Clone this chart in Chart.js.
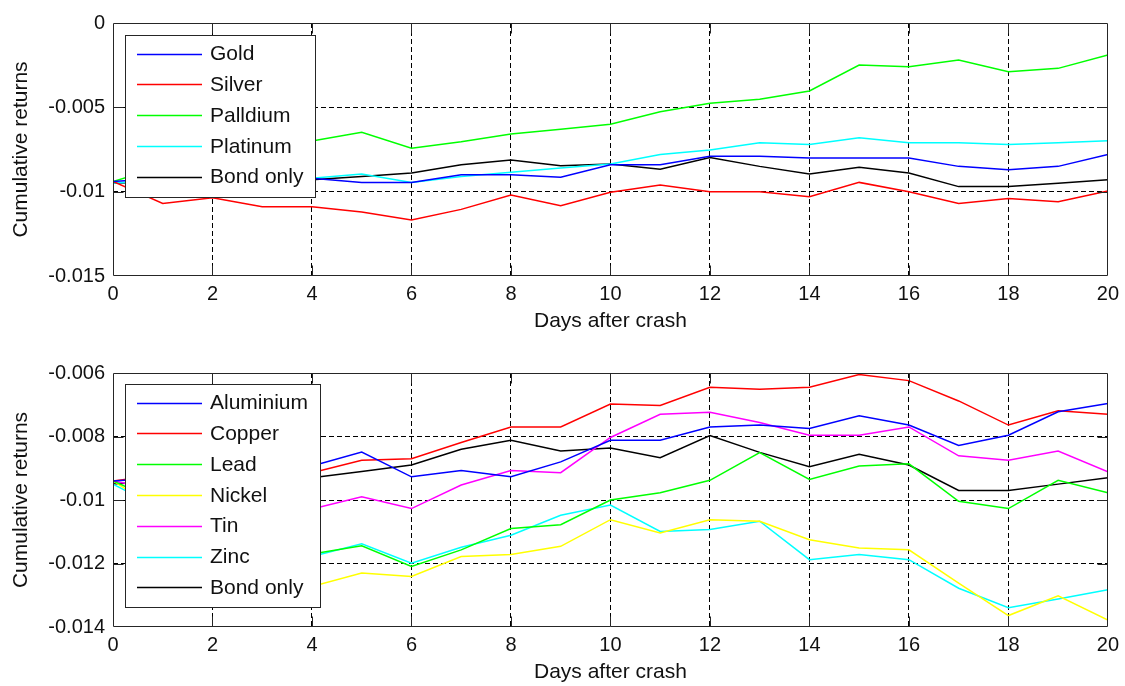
<!DOCTYPE html>
<html>
<head>
<meta charset="utf-8">
<script src="https://cdn.jsdelivr.net/npm/chart.js@4.4.1/dist/chart.umd.min.js"></script>
<style>
  html, body { margin: 0; padding: 0; background: #fff; }
  #wrap { position: relative; width: 1125px; height: 686px; }
  canvas { position: absolute; left: 0; }
</style>
</head>
<body>
<div id="wrap">
  <canvas id="precious" width="1125" height="343" style="top:0"></canvas>
  <canvas id="base" width="1125" height="343" style="top:343px"></canvas>
</div>
<script>
// Days after the crash (x axis)
const days = [0, 1, 2, 3, 4, 5, 6, 7, 8, 9, 10, 11, 12, 13, 14, 15, 16, 17, 18, 19, 20];
const xTickValues = [0, 2, 4, 6, 8, 10, 12, 14, 16, 18, 20];
const xTickLabels = ['0', '2', '4', '6', '8', '10', '12', '14', '16', '18', '20'];

// Precious metals: cumulative returns
const gold      = [-0.0094, -0.0092, -0.0093, -0.0092, -0.0092, -0.00945, -0.00945, -0.0090, -0.0090, -0.00915, -0.0084, -0.0084, -0.0079, -0.0079, -0.0080, -0.0080, -0.0080, -0.0085, -0.0087, -0.0085, -0.0078];
const silver    = [-0.0094, -0.0107, -0.01036, -0.0109, -0.0109, -0.0112, -0.01168, -0.01105, -0.0102, -0.01083, -0.01004, -0.0096, -0.0100, -0.0100, -0.0103, -0.00945, -0.0100, -0.0107, -0.0104, -0.0106, -0.00996];
const palladium = [-0.0094, -0.0085, -0.0079, -0.0074, -0.0070, -0.00648, -0.00743, -0.00704, -0.00658, -0.0063, -0.0060, -0.00526, -0.00476, -0.00452, -0.00403, -0.00249, -0.00259, -0.00219, -0.00289, -0.00269, -0.0019];
const platinum  = [-0.0095, -0.0093, -0.0093, -0.0092, -0.0092, -0.00895, -0.00945, -0.0091, -0.00885, -0.0086, -0.00836, -0.00779, -0.00753, -0.0071, -0.0072, -0.0068, -0.0071, -0.0071, -0.0072, -0.0071, -0.00698];

// Benchmark shared by both panels
const bondOnly  = [-0.0095, -0.0094, -0.0093, -0.0093, -0.0093, -0.0091, -0.0089, -0.0084, -0.00812, -0.00846, -0.00836, -0.00867, -0.00797, -0.0085, -0.00895, -0.00856, -0.0089, -0.0097, -0.0097, -0.0095, -0.0093];

// Base metals: cumulative returns
const aluminium = [-0.0094, -0.0093, -0.0092, -0.0091, -0.00893, -0.00849, -0.00927, -0.00907, -0.00927, -0.0088, -0.00812, -0.00812, -0.0077, -0.00764, -0.00775, -0.00735, -0.00764, -0.00828, -0.00796, -0.00722, -0.00696];
const copper    = [-0.0094, -0.0092, -0.0093, -0.0092, -0.00914, -0.00875, -0.0087, -0.00819, -0.0077, -0.0077, -0.00698, -0.00702, -0.00645, -0.00651, -0.00645, -0.00605, -0.00624, -0.00688, -0.00764, -0.00719, -0.0073];
const lead      = [-0.0094, -0.0101, -0.0107, -0.0112, -0.0117, -0.01144, -0.01209, -0.01157, -0.0109, -0.01078, -0.0100, -0.00977, -0.00938, -0.00851, -0.00935, -0.00893, -0.00886, -0.01004, -0.01027, -0.00938, -0.00977];
const nickel    = [-0.0094, -0.0104, -0.0112, -0.0121, -0.01272, -0.0123, -0.01241, -0.01178, -0.01172, -0.01146, -0.01062, -0.01104, -0.01062, -0.01067, -0.01125, -0.01151, -0.01157, -0.01262, -0.01364, -0.01302, -0.01378];
const tin       = [-0.0094, -0.0097, -0.0099, -0.0101, -0.01028, -0.0099, -0.01027, -0.00953, -0.00907, -0.00914, -0.00803, -0.0073, -0.00724, -0.00756, -0.00796, -0.00796, -0.0077, -0.00861, -0.00875, -0.00846, -0.00911];
const zinc      = [-0.0095, -0.0103, -0.0109, -0.0114, -0.01178, -0.01138, -0.01199, -0.01149, -0.01111, -0.01048, -0.01016, -0.01099, -0.01093, -0.01067, -0.01188, -0.01172, -0.01188, -0.01278, -0.01339, -0.01312, -0.01283];

// Y axis ticks for each panel
const preciousYTicks  = [-0.015, -0.01, -0.005, 0];
const preciousYLabels = ['-0.015', '-0.01', '-0.005', '0'];
const baseYTicks      = [-0.014, -0.012, -0.01, -0.008, -0.006];
const baseYLabels     = ['-0.014', '-0.012', '-0.01', '-0.008', '-0.006'];

const FONT = "'Liberation Sans', Arial, Helvetica, sans-serif";
const TEXT = '#111';

// Solid box around the plot area with short inward tick marks on all four sides
const framePlugin = {
  id: 'boxFrame',
  afterDatasetsDraw(chart) {
    const { ctx, chartArea: a, scales: { x, y } } = chart;
    const L = Math.round(a.left) + 0.5, R = Math.round(a.right) - 0.5;
    const T = Math.round(a.top) + 0.5, B = Math.round(a.bottom) - 0.5;
    const len = 10;
    ctx.save();
    ctx.strokeStyle = '#262626';
    ctx.lineWidth = 1;
    ctx.setLineDash([]);
    ctx.beginPath();
    ctx.rect(L, T, R - L, B - T);
    x.ticks.forEach(t => {
      if (t.value === x.min || t.value === x.max) return;
      const px = Math.round(x.getPixelForValue(t.value)) + 0.5;
      ctx.moveTo(px, B); ctx.lineTo(px, B - len);
      ctx.moveTo(px, T); ctx.lineTo(px, T + len);
    });
    y.ticks.forEach(t => {
      if (t.value === y.min || t.value === y.max) return;
      const py = Math.round(y.getPixelForValue(t.value)) + 0.5;
      ctx.moveTo(L, py); ctx.lineTo(L + len, py);
      ctx.moveTo(R, py); ctx.lineTo(R - len, py);
    });
    ctx.stroke();
    ctx.restore();
  }
};

// Boxed legend placed inside the upper-left corner of the plot area
const insetLegendPlugin = {
  id: 'insetLegend',
  afterDatasetsDraw(chart, args, opts) {
    const { ctx, chartArea: a } = chart;
    const sets = chart.data.datasets;
    const rowGap = 30.8, firstRow = 18.5, lastPad = 20;
    ctx.save();
    ctx.font = '21px ' + FONT;
    const maxW = Math.max(...sets.map(d => ctx.measureText(d.label).width));
    const left = Math.round(a.left) + 12, top = Math.round(a.top) + opts.inset;
    const w = Math.round(85 + maxW + 12);
    const h = Math.round(firstRow + (sets.length - 1) * rowGap + lastPad);
    ctx.fillStyle = '#fff';
    ctx.fillRect(left, top, w, h);
    ctx.strokeStyle = '#262626';
    ctx.lineWidth = 1;
    ctx.strokeRect(left + 0.5, top + 0.5, w, h);
    sets.forEach((d, i) => {
      const cy = top + firstRow + i * rowGap;
      ctx.strokeStyle = d.borderColor;
      ctx.lineWidth = d.borderWidth;
      ctx.beginPath();
      ctx.moveTo(left + 12, Math.round(cy) + 0.5);
      ctx.lineTo(left + 77, Math.round(cy) + 0.5);
      ctx.stroke();
      ctx.fillStyle = TEXT;
      ctx.textBaseline = 'middle';
      ctx.textAlign = 'left';
      ctx.fillText(d.label, left + 85, cy + 1);
    });
    ctx.restore();
  }
};

function makeChart(id, series, yTicks, yLabels, box) {
  const yMin = yTicks[0], yMax = yTicks[yTicks.length - 1];
  const edgeless = (lo, hi) => c => (c.tick && (c.tick.value === lo || c.tick.value === hi)) ? 'rgba(0,0,0,0)' : '#000';
  return new Chart(document.getElementById(id), {
    type: 'line',
    data: {
      datasets: series.map(s => ({
        label: s.label,
        data: days.map((d, i) => ({ x: d, y: s.values[i] })),
        borderColor: s.color,
        borderWidth: 1.5,
        pointRadius: 0,
        tension: 0,
        fill: false
      }))
    },
    options: {
      responsive: false,
      animation: false,
      devicePixelRatio: 1,
      layout: { padding: { top: box.top, right: 14, left: 0, bottom: 0 } },
      plugins: {
        legend: { display: false },
        tooltip: { enabled: false },
        insetLegend: { inset: box.legendInset }
      },
      scales: {
        x: {
          type: 'linear',
          min: 0, max: 20,
          afterBuildTicks: s => { s.ticks = xTickValues.map(v => ({ value: v })); },
          afterFit: s => { s.height = 343 - box.bottom; },
          ticks: {
            callback: (v, i) => xTickLabels[i],
            autoSkip: false, maxRotation: 0, padding: 6,
            color: TEXT, font: { family: FONT, size: 20 }
          },
          grid: { color: edgeless(0, 20), lineWidth: 1, drawTicks: false },
          border: { display: false, dash: [5, 3] },
          title: {
            display: true, text: 'Days after crash', color: TEXT,
            font: { family: FONT, size: 21 },
            padding: { top: 0, bottom: box.xTitlePad }
          }
        },
        y: {
          min: yMin, max: yMax,
          afterBuildTicks: s => { s.ticks = yTicks.map(v => ({ value: v })); },
          afterFit: s => { s.width = 113; },
          ticks: {
            callback: (v, i) => yLabels[i],
            padding: 8,
            color: TEXT, font: { family: FONT, size: 20 }
          },
          grid: { color: edgeless(yMin, yMax), lineWidth: 1, drawTicks: false },
          border: { display: false, dash: [5, 3] },
          title: {
            display: true, text: 'Cumulative returns', color: TEXT,
            font: { family: FONT, size: 21 },
            padding: { top: 8.4, bottom: 0 }
          }
        }
      }
    },
    plugins: [framePlugin, insetLegendPlugin]
  });
}

makeChart('precious', [
  { label: 'Gold',      values: gold,      color: '#0000ff' },
  { label: 'Silver',    values: silver,    color: '#ff0000' },
  { label: 'Palldium',  values: palladium, color: '#00ff00' },
  { label: 'Platinum',  values: platinum,  color: '#00ffff' },
  { label: 'Bond only', values: bondOnly,  color: '#000000' }
], preciousYTicks, preciousYLabels, { top: 23, bottom: 276, legendInset: 12, xTitlePad: 9.4 });

makeChart('base', [
  { label: 'Aluminium', values: aluminium, color: '#0000ff' },
  { label: 'Copper',    values: copper,    color: '#ff0000' },
  { label: 'Lead',      values: lead,      color: '#00ff00' },
  { label: 'Nickel',    values: nickel,    color: '#ffff00' },
  { label: 'Tin',       values: tin,       color: '#ff00ff' },
  { label: 'Zinc',      values: zinc,      color: '#00ffff' },
  { label: 'Bond only', values: bondOnly,  color: '#000000' }
], baseYTicks, baseYLabels, { top: 30, bottom: 284, legendInset: 11, xTitlePad: 1.4 });
</script>
</body>
</html>
